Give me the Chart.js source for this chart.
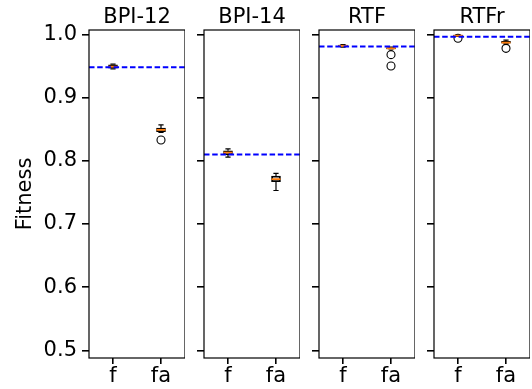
<!DOCTYPE html>
<html>
<head>
<meta charset="utf-8">
<script src="https://cdn.jsdelivr.net/npm/chart.js@4"></script>
<style>
  html, body { margin: 0; padding: 0; background: #fff; }
  #wrap { position: relative; width: 532px; height: 389px; overflow: hidden; }
  .panel { position: absolute; top: 0; height: 389px; }
</style>
</head>
<body>
<div id="wrap">
  <div class="panel" style="left:0px;width:185px"><canvas id="c0"></canvas></div>
  <div class="panel" style="left:197px;width:103px"><canvas id="c1"></canvas></div>
  <div class="panel" style="left:312px;width:103px"><canvas id="c2"></canvas></div>
  <div class="panel" style="left:427px;width:103px"><canvas id="c3"></canvas></div>
</div>
<script>
// data
const panelTitles = ["BPI-12", "BPI-14", "RTF", "RTFr"];
const categories = ["f", "fa"];
const yTicks = [0.5, 0.6, 0.7, 0.8, 0.9, 1.0];
const referenceLines = [0.948, 0.810, 0.981, 0.9965];

// box stats per panel, one value for f and one for fa
const whiskerLow = [[0.9455, 0.845], [0.806, 0.753], [0.980, 0.977], [0.997, 0.985]];
const q1 = [[0.9465, 0.846], [0.8095, 0.767], [0.981, 0.977], [0.997, 0.986]];
const medians = [[0.949, 0.849], [0.813, 0.771], [0.982, 0.978], [0.998, 0.987]];
const q3 = [[0.952, 0.852], [0.816, 0.776], [0.983, 0.979], [0.999, 0.989]];
const whiskerHigh = [[0.953, 0.857], [0.819, 0.780], [0.984, 0.980], [0.999, 0.991]];
const outliers = [[[], [0.833]], [[], []], [[], [0.968, 0.950]], [[0.994], [0.978]]];

Chart.defaults.font.family = "'DejaVu Sans', sans-serif";
Chart.defaults.color = "#000";

const FONT = 21;

// whiskers, caps, medians, reference line, frame and panel title
const boxExtras = {
  id: "boxExtras",
  afterDatasetsDraw(chart, args, opts) {
    const p = opts.panel;
    const ctx = chart.ctx;
    const xs = chart.scales.x;
    const ys = chart.scales.y;
    const area = chart.chartArea;
    ctx.save();

    categories.forEach((c, i) => {
      const x = xs.getPixelForValue(i);
      const capW = 2.6;
      const hi = ys.getPixelForValue(whiskerHigh[p][i]);
      const lo = ys.getPixelForValue(whiskerLow[p][i]);
      ctx.strokeStyle = "#000";
      ctx.lineWidth = 1.2;
      ctx.beginPath();
      ctx.moveTo(x, ys.getPixelForValue(q3[p][i]));
      ctx.lineTo(x, hi);
      ctx.moveTo(x, ys.getPixelForValue(q1[p][i]));
      ctx.lineTo(x, lo);
      ctx.moveTo(x - capW, hi);
      ctx.lineTo(x + capW, hi);
      ctx.moveTo(x - capW, lo);
      ctx.lineTo(x + capW, lo);
      ctx.stroke();

      const m = ys.getPixelForValue(medians[p][i]);
      ctx.strokeStyle = "#ff7f0e";
      ctx.lineWidth = 1.8;
      ctx.beginPath();
      ctx.moveTo(x - 4.5, m);
      ctx.lineTo(x + 4.5, m);
      ctx.stroke();
    });

    const yr = ys.getPixelForValue(referenceLines[p]);
    ctx.strokeStyle = "#0000ff";
    ctx.lineWidth = 2;
    ctx.setLineDash([5.5, 2.7]);
    ctx.beginPath();
    ctx.moveTo(area.left, yr);
    ctx.lineTo(area.right, yr);
    ctx.stroke();
    ctx.setLineDash([]);

    ctx.strokeStyle = "#000";
    ctx.lineWidth = 1.2;
    ctx.strokeRect(area.left, area.top, area.right - area.left, area.bottom - area.top);

    ctx.fillStyle = "#000";
    ctx.font = FONT + "px 'DejaVu Sans', sans-serif";
    ctx.textAlign = "center";
    ctx.textBaseline = "alphabetic";
    ctx.fillText(panelTitles[p], (area.left + area.right) / 2, 23);
    ctx.restore();
  }
};

function makePanel(p) {
  const outlierPoints = [];
  categories.forEach((c, i) => {
    outliers[p][i].forEach(v => outlierPoints.push({ x: c, y: v }));
  });

  new Chart(document.getElementById("c" + p), {
    type: "bar",
    data: {
      labels: categories,
      datasets: [
        {
          data: categories.map((c, i) => [q1[p][i], q3[p][i]]),
          backgroundColor: "rgba(0,0,0,0)",
          borderColor: "#000",
          borderWidth: 1.2,
          borderSkipped: false,
          barThickness: 9
        },
        {
          type: "scatter",
          data: outlierPoints,
          pointStyle: "circle",
          pointRadius: 4,
          pointBorderWidth: 1.1,
          borderColor: "#000",
          backgroundColor: "rgba(0,0,0,0)"
        }
      ]
    },
    options: {
      responsive: true,
      maintainAspectRatio: false,
      animation: false,
      devicePixelRatio: 1,
      layout: { autoPadding: false, padding: { top: 30, left: 0, right: 0, bottom: 0 } },
      plugins: {
        legend: { display: false },
        tooltip: { enabled: false },
        title: { display: false },
        boxExtras: { panel: p }
      },
      scales: {
        x: {
          type: "category",
          offset: true,
          border: { display: false },
          grid: {
            display: true,
            offset: false,
            drawOnChartArea: false,
            drawTicks: true,
            tickLength: 6,
            color: "#000",
            lineWidth: 1.6
          },
          ticks: { font: { size: FONT }, color: "#000", padding: 0, maxRotation: 0 },
          afterFit: s => {
            s.height = 31;
            s.paddingLeft = 0;
            s.paddingRight = 0;
          }
        },
        y: {
          type: "linear",
          min: 0.488,
          max: 1.007,
          border: { display: false },
          grid: {
            display: true,
            drawOnChartArea: false,
            drawTicks: true,
            tickLength: 7,
            color: "#000",
            lineWidth: 1.6
          },
          afterBuildTicks: s => { s.ticks = yTicks.map(v => ({ value: v })); },
          ticks: {
            display: p === 0,
            font: { size: FONT },
            color: "#000",
            padding: 5,
            callback: v => v.toFixed(1)
          },
          title: {
            display: p === 0,
            text: "Fitness",
            color: "#000",
            font: { size: FONT },
            padding: { top: 13.4, bottom: 0 }
          },
          afterFit: s => {
            s.width = p === 0 ? 89 : 7;
            s.paddingTop = 0;
            s.paddingBottom = 0;
          }
        }
      }
    },
    plugins: [boxExtras]
  });
}

panelTitles.forEach((t, p) => makePanel(p));
</script>
</body>
</html>
